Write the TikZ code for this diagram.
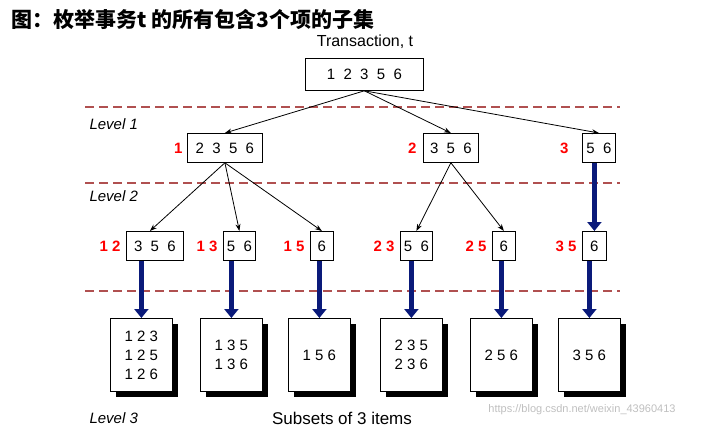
\documentclass[tikz,border=0pt]{standalone}
\usepackage{fontspec}
\setmainfont{Liberation Sans}
\newfontfamily\cjk{Noto Sans CJK SC}
\usetikzlibrary{arrows.meta}
\definecolor{dashred}{HTML}{B05050}
\definecolor{navy}{HTML}{0A1A7A}
\begin{document}
\begin{tikzpicture}[x=1pt,y=-1pt,
 bx/.style={draw,thick,fill=white,inner sep=0pt,anchor=north west,font=\fontsize{15}{15}\selectfont},
 lab/.style={text=red,font=\bfseries\fontsize{15}{15}\selectfont,anchor=east},
 lvl/.style={font=\itshape\fontsize{15}{15}\selectfont,anchor=west},
 thin/.style={-{Stealth[length=7pt,width=5pt]},thick},
 fat/.style={navy,line width=5pt,-{Triangle[length=9pt,width=14pt]},shorten >=0pt},
 dl/.style={color=dashred,line width=1.5pt,dash pattern=on 9pt off 5pt},
 sub/.style={draw,thick,fill=white,minimum width=62pt,minimum height=73pt,anchor=north west,align=center,inner sep=0pt,font=\fontsize{15}{19}\selectfont}]
\useasboundingbox (0,0) rectangle (725,428);
\node[anchor=west,font=\cjk\bfseries\fontsize{21}{21}\selectfont] (title) at (8,20) {图：枚举事务t 的所有包含3个项的子集};
\node[font=\fontsize{16}{16}\selectfont] (tt) at (365,42) {Transaction, t};
\node[bx,minimum width=118pt,minimum height=32pt] (r) at (305,58) {1\ \ 2\ \ 3\ \ 5\ \ 6};
\draw[dl] (85,107) -- (620,107);
\draw[dl] (85,183) -- (620,183);
\draw[dl] (85,291) -- (620,291);
\node[lvl] (l1) at (86,124) {Level 1};
\node[lvl] (l2) at (86,196) {Level 2};
\node[lvl] (l3) at (86,418) {Level 3};
% level 1
\node[bx,minimum width=75pt,minimum height=29pt] (a1) at (187,133) {2\ \ 3\ \ 5\ \ 6};
\node[bx,minimum width=55pt,minimum height=29pt] (a2) at (423,133) {3\ \ 5\ \ 6};
\node[bx,minimum width=33pt,minimum height=29pt] (a3) at (582,133) {5\ \ 6};
\node[lab] (la1) at (186,148) {1};
\node[lab] (la2) at (420,148) {2};
\node[lab] (la3) at (572,148) {3};
% level 2
\node[bx,minimum width=57pt,minimum height=29pt] (b1) at (126,231) {3\ \ 5\ \ 6};
\node[bx,minimum width=32pt,minimum height=29pt] (b2) at (223,231) {5\ \ 6};
\node[bx,minimum width=23pt,minimum height=29pt] (b3) at (310,231) {6};
\node[bx,minimum width=32pt,minimum height=29pt] (b4) at (400,231) {5\ \ 6};
\node[bx,minimum width=23pt,minimum height=29pt] (b5) at (492,231) {6};
\node[bx,minimum width=24pt,minimum height=29pt] (b6) at (582,231) {6};
\node[lab] (lb1) at (124,246) {1 2};
\node[lab] (lb2) at (221,246) {1 3};
\node[lab] (lb3) at (308,246) {1 5};
\node[lab] (lb4) at (398,246) {2 3};
\node[lab] (lb5) at (490,246) {2 5};
\node[lab] (lb6) at (580,246) {3 5};
\draw[thin] (r.south) -- (a1.north);
\draw[thin] (r.south) -- (a2.north);
\draw[thin] (r.south) -- (a3.north);
\draw[thin] (a1.south) -- ([xshift=-5pt]b1.north);
\draw[thin] (a1.south) -- (b2.north);
\draw[thin] (a1.south) -- (b3.north);
\draw[thin] (a2.south) -- (b4.north);
\draw[thin] (a2.south) -- (b5.north);
\draw[fat] (b6.north |- a3.south) -- (b6.north);
% level 3
\foreach \n/\x/\t in {c1/110/{1 2 3\\1 2 5\\1 2 6},c2/200/{1 3 5\\1 3 6},c3/288/{1 5 6},c4/380/{2 3 5\\2 3 6},c5/470/{2 5 6},c6/558/{3 5 6}}{
  \fill (\x+6,324) rectangle (\x+68,397);
  \node[sub] (\n) at (\x,318) {\t};
}
\foreach \b/\c in {b1/c1,b2/c2,b3/c3,b4/c4,b5/c5,b6/c6}{
  \draw[fat] (\c.north |- \b.south) -- (\c.north);
}
\node[font=\fontsize{17}{17}\selectfont] (st) at (342,418) {Subsets of 3 items};
\node[text=black!25,font=\fontsize{11}{11}\selectfont] (wm) at (582,410) {https://blog.csdn.net/weixin\_43960413};
\end{tikzpicture}
\end{document}
